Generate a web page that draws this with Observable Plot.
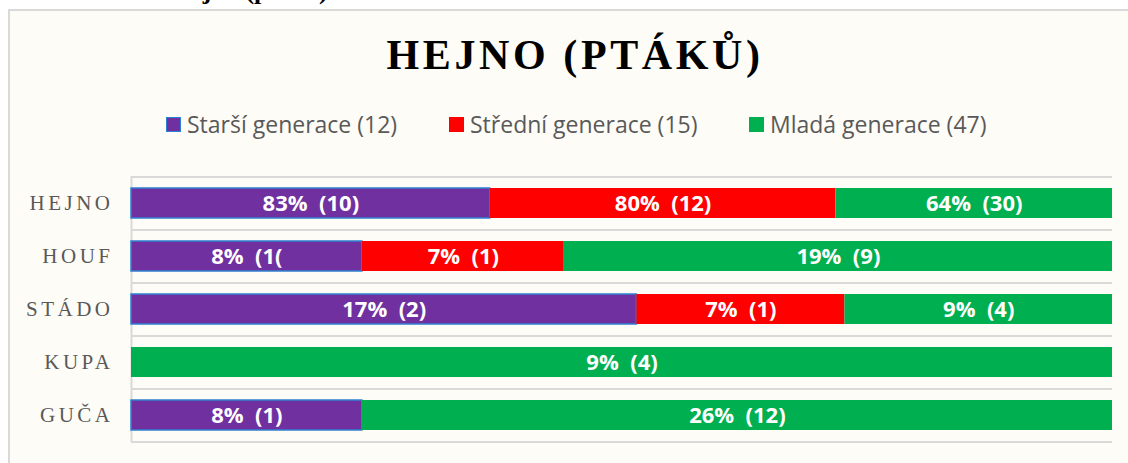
<!DOCTYPE html>
<html>
<head>
<meta charset="utf-8">
<script src="https://cdn.jsdelivr.net/npm/d3@7"></script>
<script src="https://cdn.jsdelivr.net/npm/@observablehq/plot@0.6"></script>
<style>
  html, body { margin: 0; padding: 0; background: #ffffff; width: 1128px; height: 463px; overflow: hidden; position: relative; }
  #cut { position: absolute; left: 171px; top: -24px; font: bold 26px/30px "Liberation Serif", serif; color: #000; white-space: nowrap; }
  #box { position: absolute; left: 8px; top: 9px; width: 1140px; height: 470px; border: 2px solid #d9d9d9; background: #fefcf7; box-sizing: border-box; }
  #title { position: absolute; left: 11px; top: 34px; width: 1128px; text-align: center; font: bold 42px/42px "Liberation Serif", serif; letter-spacing: 3.6px; color: #000; white-space: nowrap; }
  .leg { position: absolute; top: 108px; height: 32px; display: flex; align-items: center; font: 23px "Open Sans", sans-serif; color: #595959; white-space: nowrap; }
  .sw { width: 15px; height: 15px; margin-right: 6px; box-sizing: border-box; }
  #chart { position: absolute; left: 0; top: 150px; }
  #chart svg text { white-space: pre; }
  .ylab text { letter-spacing: 3.5px; fill: #595959; }
</style>
</head>
<body>
<div id="cut">Hejno (ptáků)</div>
<div id="box"></div>
<div id="title">HEJNO (PTÁKŮ)</div>
<div id="legend"></div>
<div id="chart"></div>
<script>
const categories = ["HEJNO", "HOUF", "STÁDO", "KUPA", "GUČA"];
const generations = ["Starší generace (12)", "Střední generace (15)", "Mladá generace (47)"];
const colors = ["#7030a0", "#ff0000", "#00b050"];

const olderPct  = [83, 8, 17, 0, 8];
const middlePct = [80, 7, 7, 0, 0];
const youngPct  = [64, 19, 9, 9, 26];

const olderLabels  = ["83%  (10)", "8%  (1(", "17%  (2)", "", "8%  (1)"];
const middleLabels = ["80%  (12)", "7%  (1)", "7%  (1)", "", ""];
const youngLabels  = ["64%  (30)", "19%  (9)", "9%  (4)", "9%  (4)", "26%  (12)"];

const legendLeft = [166, 449, 749];

const series = [
  {pct: olderPct, labels: olderLabels},
  {pct: middlePct, labels: middleLabels},
  {pct: youngPct, labels: youngLabels}
];
const rows = [];
categories.forEach((cat, i) => {
  series.forEach((s, g) => {
    if (s.pct[i] > 0) rows.push({cat, gen: generations[g], pct: s.pct[i], label: s.labels[i]});
  });
});

// legend
const legend = document.getElementById("legend");
generations.forEach((g, i) => {
  const item = document.createElement("div");
  item.className = "leg";
  item.style.left = legendLeft[i] + "px";
  const sw = document.createElement("div");
  sw.className = "sw";
  sw.style.background = colors[i];
  if (i === 0) sw.style.border = "1.5px solid #2f80d0";
  item.appendChild(sw);
  const t = document.createElement("span");
  t.textContent = g;
  item.appendChild(t);
  legend.appendChild(item);
});

const step = 266 / categories.length;

const plot = Plot.plot({
  width: 1128,
  height: 313,
  marginTop: 26,
  marginBottom: 21,
  marginLeft: 131,
  marginRight: 16,
  style: {background: "transparent", overflow: "visible"},
  x: {axis: null, domain: [0, 1]},
  y: {domain: categories, paddingInner: 0.43, paddingOuter: 0.215, label: null, axis: null},
  color: {domain: generations, range: colors},
  opacity: {domain: [0, 1], range: [0, 1]},
  marks: [
    Plot.ruleY(categories, {y: d => d, dy: -step / 2, stroke: "#d9d9d9", strokeWidth: 2}),
    Plot.ruleY(categories.slice(-1), {y: d => d, dy: step / 2, stroke: "#d9d9d9", strokeWidth: 2}),
    Plot.ruleX([0], {stroke: "#d9d9d9", strokeWidth: 2}),
    Plot.barX(rows, Plot.stackX({
      x: "pct", y: "cat", fill: "gen", z: "gen", offset: "normalize", order: generations,
      stroke: "#2f80d0", strokeWidth: 1.5,
      strokeOpacity: d => d.gen === generations[0] ? 1 : 0,
      inset: 0
    })),
    Plot.text(rows, Plot.stackX({
      x: "pct", y: "cat", z: "gen", offset: "normalize", order: generations,
      text: "label", fill: "white", fontSize: 22, fontWeight: "bold",
      fontFamily: "Open Sans, sans-serif"
    })),
    Plot.axisY({tickSize: 0, tickPadding: 18, fontSize: 21, fontFamily: "Liberation Serif, serif", className: "ylab", label: null})
  ]
});
document.getElementById("chart").appendChild(plot);
</script>
</body>
</html>
